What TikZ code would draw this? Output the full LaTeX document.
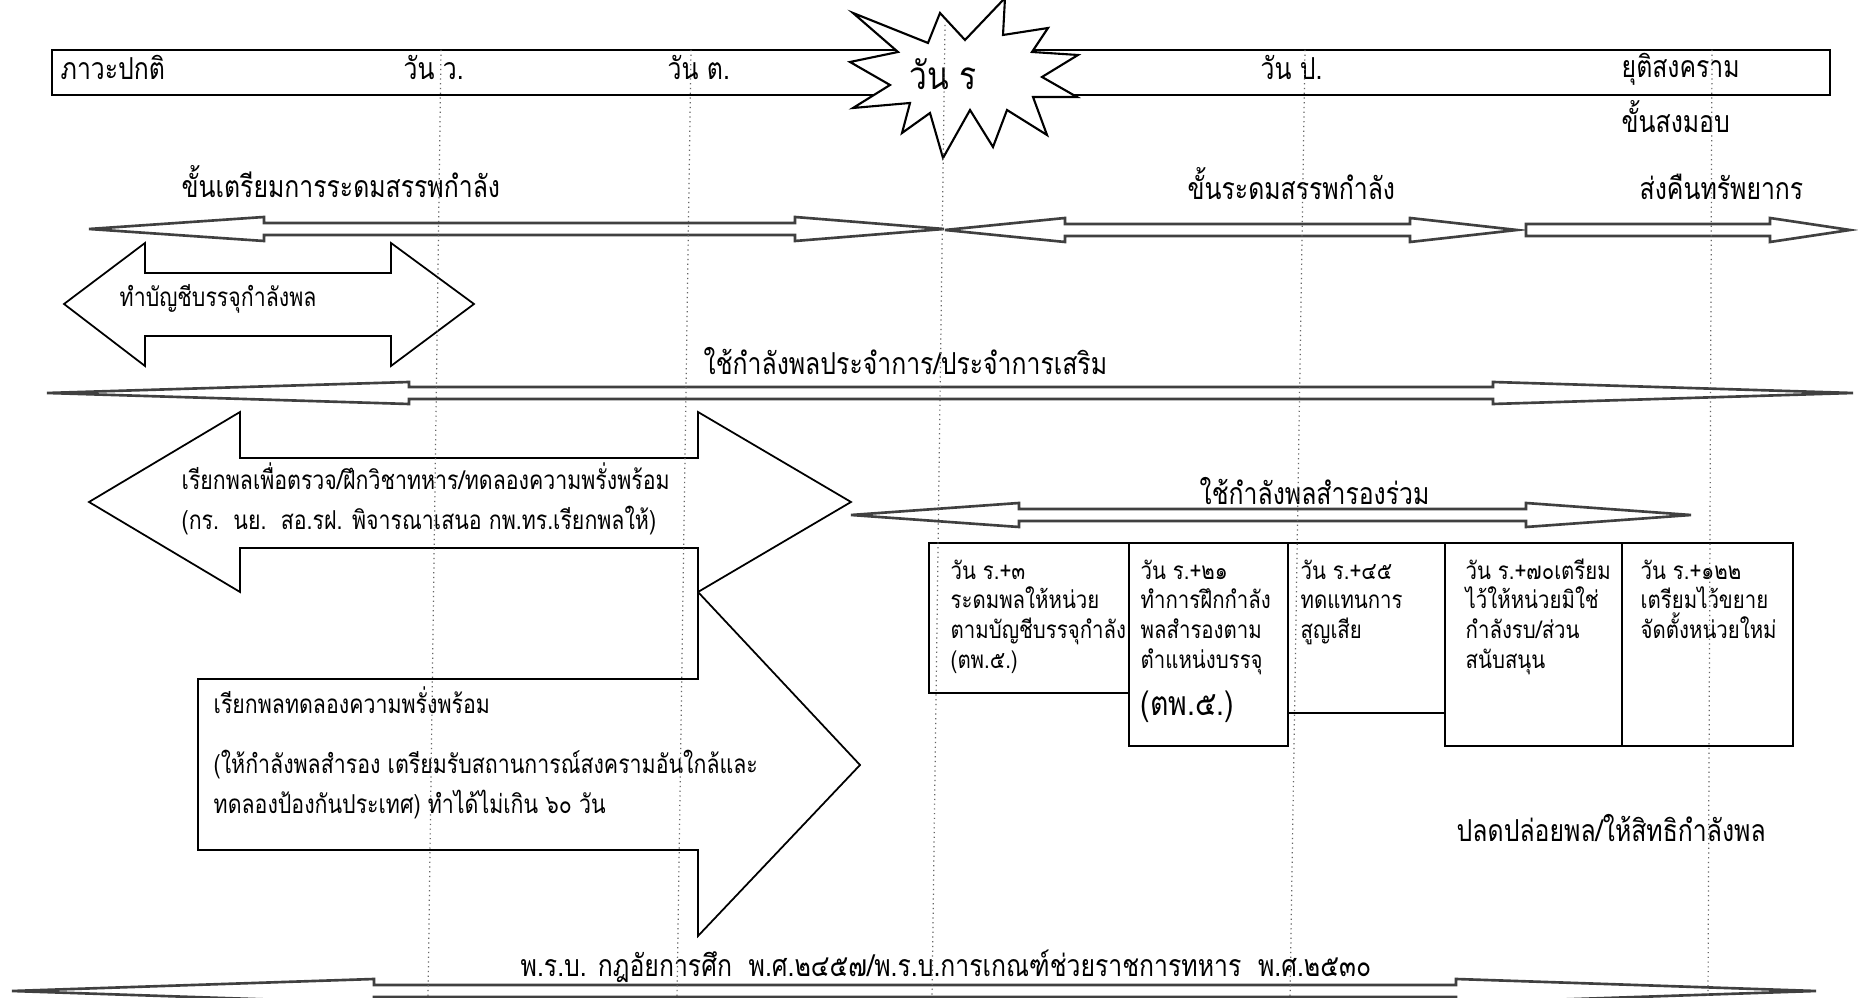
\documentclass[tikz,border=0pt]{standalone}
\usepackage{fontspec}
\newfontfamily\thai[Script=Thai,FakeStretch=0.82]{Loma}
\newfontfamily\thaibox[Script=Thai,FakeStretch=0.84]{Loma}
\begin{document}
\begin{tikzpicture}[x=0.01cm,y=-0.01cm,
  guide/.style={draw=black!60,densely dotted,line width=0.35pt},
  thinarrow/.style={draw=black!75,line width=0.75pt,fill=white,line join=miter},
  blockarrow/.style={draw=black,line width=0.5pt,fill=white},
  timebar/.style={draw=black,line width=0.8pt,fill=white},
  stepbox/.style={draw=black,line width=0.6pt,fill=white},
  txt/.style={inner sep=0pt,anchor=base west,font=\thai\fontsize{8.6}{10}\selectfont},
  midtxt/.style={txt,font=\thai\fontsize{7.4}{9}\selectfont},
  boxtxt/.style={txt,font=\thaibox\fontsize{6.9}{8}\selectfont},
]
\useasboundingbox[fill=white] (0,0) rectangle (1858,998);

% timeline bar and star
\draw[timebar] (52,50) rectangle (1830,95);
\draw[timebar,line width=0.6pt,line join=miter]
  (853,13) -- (928,43) -- (940,13) -- (965,40) -- (1005,-2) -- (1003,35) -- (1048,28)
  -- (1032,52) -- (1078,55) -- (1042,77) -- (1077,97) -- (1033,97) -- (1047,135)
  -- (1007,110) -- (993,147) -- (970,110) -- (943,158) -- (930,113) -- (902,133)
  -- (910,103) -- (853,108) -- (890,85) -- (850,62) -- (898,52) -- cycle;

\node[txt] (normal) at (60,80) {ภาวะปกติ};
\node[txt] (dayw) at (403,80) {วัน ว.};
\node[txt] (dayt) at (667,80) {วัน ต.};
\node[txt,anchor=base,font=\thai\fontsize{11}{13}\selectfont] (dayr) at (943,90) {วัน ร};
\node[txt] (dayp) at (1260,80) {วัน ป.};
\node[txt] (warend) at (1621,78) {ยุติสงคราม};
\node[txt] (handover) at (1621,133) {ขั้นสงมอบ};

% phase labels and thin arrows
\node[txt] (prep) at (181,198) {ขั้นเตรียมการระดมสรรพกำลัง};
\node[txt] (mobil) at (1187,200) {ขั้นระดมสรรพกำลัง};
\node[txt] (retres) at (1639,200) {ส่งคืนทรัพยากร};

\draw[thinarrow] (89,229) -- (264,217) -- (264,223) -- (795,223) -- (795,217) -- (944,229)
  -- (795,241) -- (795,235) -- (264,235) -- (264,241) -- cycle;
\draw[thinarrow] (945,230) -- (1065,218) -- (1065,224) -- (1410,224) -- (1410,218) -- (1517,230)
  -- (1410,242) -- (1410,236) -- (1065,236) -- (1065,242) -- cycle;
\draw[thinarrow] (1526,224) -- (1770,224) -- (1770,218) -- (1850,230) -- (1770,242)
  -- (1770,236) -- (1526,236) -- cycle;

% roster arrow
\draw[blockarrow] (64,304) -- (145,243) -- (145,273) -- (391,273) -- (391,243) -- (474,304)
  -- (391,366) -- (391,336) -- (145,336) -- (145,366) -- cycle;
\node[midtxt] (roster) at (119,307) {ทำบัญชีบรรจุกำลังพล};

% regular forces arrow
\node[txt] (regular) at (703,375) {ใช้กำลังพลประจำการ/ประจำการเสริม};
\draw[thinarrow] (47,393) -- (409,382) -- (409,387) -- (1493,387) -- (1493,382) -- (1853,393)
  -- (1493,404) -- (1493,399) -- (409,399) -- (409,404) -- cycle;

% call-up arrows
\draw[blockarrow] (198,679) -- (698,679) -- (698,592) -- (860,765) -- (698,936) -- (698,850)
  -- (198,850) -- cycle;
\draw[blockarrow] (89,502) -- (240,412) -- (240,458) -- (698,458) -- (698,412) -- (851,502)
  -- (698,592) -- (698,548) -- (240,548) -- (240,592) -- cycle;
\node[midtxt] (callA1) at (181,490) {เรียกพลเพื่อตรวจ/ฝึกวิชาทหาร/ทดลองความพรั่งพร้อม};
\node[midtxt] (callA2) at (181,530) {(กร.\ \ นย.\ \ สอ.รฝ. พิจารณาเสนอ กพ.ทร.เรียกพลให้)};
\node[midtxt] (callB1) at (213,714) {เรียกพลทดลองความพรั่งพร้อม};
\node[midtxt] (callB2) at (213,774) {(ให้กำลังพลสำรอง เตรียมรับสถานการณ์สงครามอันใกล้และ};
\node[midtxt] (callB3) at (213,814) {ทดลองป้องกันประเทศ) ทำได้ไม่เกิน ๖๐ วัน};

% reserve arrow
\node[txt] (reserve) at (1199,505) {ใช้กำลังพลสำรองร่วม};
\draw[thinarrow] (851,515) -- (1019,503) -- (1019,509) -- (1526,509) -- (1526,503) -- (1691,515)
  -- (1526,527) -- (1526,521) -- (1019,521) -- (1019,527) -- cycle;

% step boxes
\draw[stepbox] (929,543) rectangle (1129,693);
\draw[stepbox] (1129,543) rectangle (1288,746);
\draw[stepbox] (1288,543) rectangle (1445,713);
\draw[stepbox] (1445,543) rectangle (1622,746);
\draw[stepbox] (1622,543) rectangle (1793,746);

\node[boxtxt] (b1a) at (950,580) {วัน ร.+๓};
\node[boxtxt] (b1b) at (950,609) {ระดมพลให้หน่วย};
\node[boxtxt] (b1c) at (950,639) {ตามบัญชีบรรจุกำลัง};
\node[boxtxt] (b1d) at (950,669) {(ตพ.๕.)};

\node[boxtxt] (b2a) at (1140,580) {วัน ร.+๒๑};
\node[boxtxt] (b2b) at (1140,609) {ทำการฝึกกำลัง};
\node[boxtxt] (b2c) at (1140,639) {พลสำรองตาม};
\node[boxtxt] (b2d) at (1140,669) {ตำแหน่งบรรจุ};
\node[txt,font=\thaibox\fontsize{9.6}{11}\selectfont] (b2e) at (1140,716) {(ตพ.๕.)};

\node[boxtxt] (b3a) at (1300,580) {วัน ร.+๔๕};
\node[boxtxt] (b3b) at (1300,609) {ทดแทนการ};
\node[boxtxt] (b3c) at (1300,639) {สูญเสีย};

\node[boxtxt] (b4a) at (1465,580) {วัน ร.+๗๐เตรียม};
\node[boxtxt] (b4b) at (1465,609) {ไว้ให้หน่วยมิใช่};
\node[boxtxt] (b4c) at (1465,639) {กำลังรบ/ส่วน};
\node[boxtxt] (b4d) at (1465,669) {สนับสนุน};

\node[boxtxt] (b5a) at (1640,580) {วัน ร.+๑๒๒};
\node[boxtxt] (b5b) at (1640,609) {เตรียมไว้ขยาย};
\node[boxtxt] (b5c) at (1640,639) {จัดตั้งหน่วยใหม่};

% release and law
\node[txt] (release) at (1456,841) {ปลดปล่อยพล/ให้สิทธิกำลังพล};
\node[txt] (law) at (520,976) {พ.ร.บ. กฎอัยการศึก\ \ พ.ศ.๒๔๕๗/พ.ร.บ.การเกณฑ์ช่วยราชการทหาร\ \ พ.ศ.๒๕๓๐};
\draw[thinarrow] (12,991) -- (374,979) -- (374,985) -- (1456,985) -- (1456,979) -- (1816,991)
  -- (1456,1003) -- (1456,997) -- (374,997) -- (374,1003) -- cycle;

% dotted guide lines
\draw[guide] (441,50) -- (428,998);
\draw[guide] (691,50) -- (677,998);
\draw[guide] (945,25) -- (932,998);
\draw[guide] (1305,50) -- (1290,998);
\draw[guide] (1712,50) -- (1708,998);
\end{tikzpicture}
\end{document}
